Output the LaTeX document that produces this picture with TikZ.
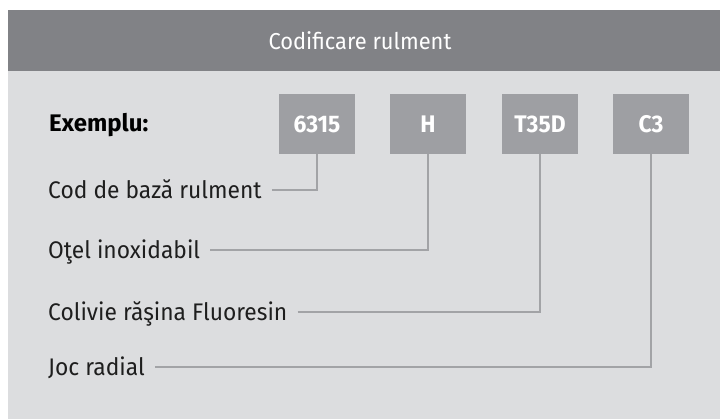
\documentclass[tikz,border=0pt]{standalone}
\usepackage{fontspec}
\setmainfont{Fira Sans}[FakeStretch=0.95]
\newfontfamily\exfont{Fira Sans}
\definecolor{headgray}{HTML}{818286}
\definecolor{bodygray}{HTML}{DCDDDF}
\definecolor{boxgray}{HTML}{9E9FA3}
\definecolor{linegray}{HTML}{A2A3A6}
\definecolor{txt}{HTML}{1E1E1E}
\tikzset{
  codebox/.style={fill=boxgray, minimum width=76pt, minimum height=60pt, inner sep=0pt,
    text=white, font=\fontsize{24}{26}\selectfont\bfseries},
  lab/.style={anchor=base west, inner sep=0pt, text=txt, font=\fontsize{24}{26}\selectfont},
  conn/.style={draw=linegray, line width=2pt}
}
\begin{document}
\begin{tikzpicture}[x=1pt,y=-1pt]
\useasboundingbox (0,0) rectangle (720,419);
\fill[white] (0,0) rectangle (720,419);
\fill[headgray] (8,10) rectangle (720,71);
\fill[bodygray] (8,71) rectangle (720,419);
\node[inner sep=0pt, text=white, font=\fontsize{23}{25}\selectfont, anchor=base] (title) at (360,50) {Codificare rulment};
\node[lab, font=\exfont\fontsize{24}{26}\selectfont\bfseries, text=black] (ex) at (49,132) {Exemplu:};
\node[codebox] (b1) at (317,124) {6315};
\node[codebox] (b2) at (428,124) {H};
\node[codebox] (b3) at (540,124) {T35D};
\node[codebox] (b4) at (651,124) {C3};
\node[lab] (l1) at (48,199) {Cod de bază rulment};
\node[lab] (l2) at (48,259) {Oţel inoxidabil};
\node[lab] (l3) at (48,321) {Colivie răşina Fluoresin};
\node[lab] (l4) at (48,376) {Joc radial};
\draw[conn] ([xshift=10pt,yshift=9pt]l1.base east) -| (b1.south);
\draw[conn] ([xshift=10pt,yshift=9pt]l2.base east) -| (b2.south);
\draw[conn] ([xshift=10pt,yshift=9pt]l3.base east) -| (b3.south);
\draw[conn] ([xshift=10pt,yshift=9pt]l4.base east) -| (b4.south);
\end{tikzpicture}
\end{document}
